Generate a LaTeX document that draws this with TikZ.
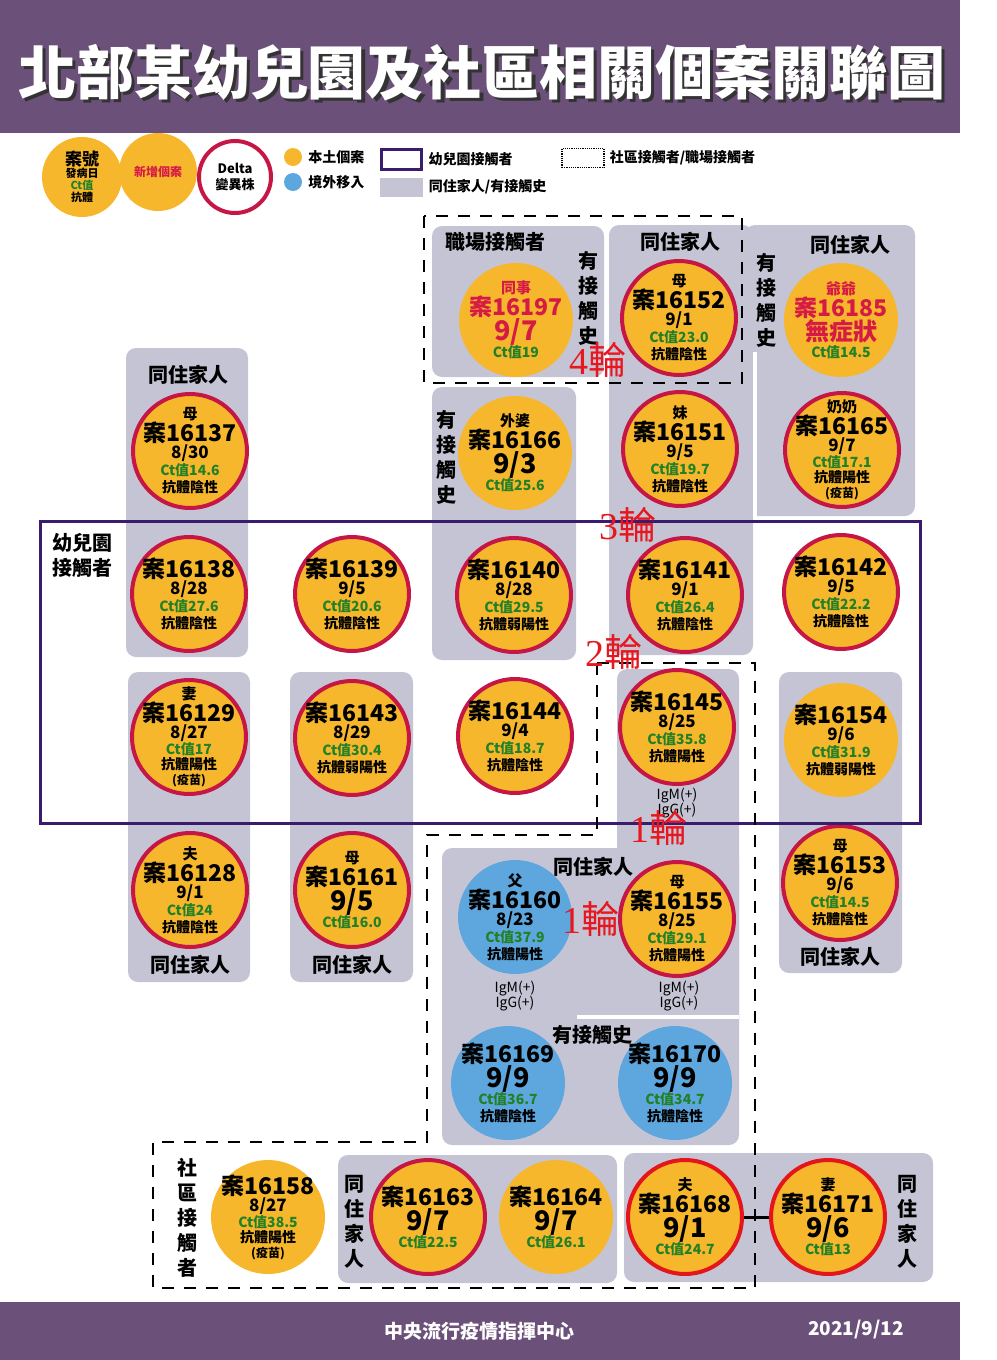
\documentclass[tikz,border=0pt]{standalone}
\usepackage{fontspec}
\setmainfont{Noto Sans CJK TC}
\newfontfamily\serifdigits{Liberation Serif}
\usetikzlibrary{positioning}

\definecolor{bandpurple}{RGB}{107,80,121}
\definecolor{caseorange}{RGB}{247,183,44}
\definecolor{caseblue}{RGB}{93,167,222}
\definecolor{deltared}{RGB}{198,22,70}
\definecolor{brightred}{RGB}{228,22,28}
\definecolor{newred}{RGB}{214,26,70}
\definecolor{ctgreen}{RGB}{34,128,38}
\definecolor{panelgray}{RGB}{196,196,212}
\definecolor{kgpurple}{RGB}{58,28,110}
\definecolor{roundred}{RGB}{232,22,30}

% one font command per line of a case circle
\newcommand{\relname}{\fontsize{15}{15}\selectfont}
\newcommand{\caseno}{\fontsize{23}{23}\selectfont}
\newcommand{\onset}{\fontsize{17}{17}\selectfont}
\newcommand{\bigdate}{\fontsize{27}{27}\selectfont}
\newcommand{\abtxt}{\fontsize{14}{14}\selectfont}
\newcommand{\vaxtxt}{\fontsize{12}{12}\selectfont}
\newcommand{\ctval}[1]{{\fontsize{14}{14}\selectfont\color{ctgreen}Ct值#1}}

\begin{document}
\begin{tikzpicture}[x=1pt, y=-1pt,
      case/.style={circle, fill=caseorange, minimum size=114, inner sep=-25pt, align=center,
                   font=\bfseries\fontsize{14}{17}\selectfont},
      abroad/.style={case, fill=caseblue},
      delta/.style={draw=deltared, line width=4},
      panel/.style={fill=panelgray, rounded corners=10},
      lbl/.style={font=\bfseries\fontsize{20}{25}\selectfont, align=center, inner sep=0},
      legtxt/.style={font=\bfseries\fontsize{14}{16}\selectfont, anchor=west, inner sep=0},
      rnd/.style={text=roundred, font=\fontsize{38}{38}\selectfont, inner sep=0},
      dashbox/.style={draw, line width=2.5, dash pattern=on 12pt off 10pt},
      ig/.style={font=\fontsize{14}{15}\selectfont, align=center, inner sep=0}]

    \useasboundingbox (0,0) rectangle (996,1360);

    % Title and footer bands
    \fill[bandpurple] (0,0) rectangle (960,133);
    \fill[bandpurple] (0,1302) rectangle (960,1360);
    \node[font=\bfseries\fontsize{58}{60}\selectfont, text=black!80] (title-sh) at (485,76) {北部某幼兒園及社區相關個案關聯圖};
    \node[font=\bfseries\fontsize{58}{60}\selectfont, text=white] (title) at (482,73) {北部某幼兒園及社區相關個案關聯圖};
    \node[font=\bfseries\fontsize{19}{20}\selectfont, text=white] (ft-org) at (479,1331) {中央流行疫情指揮中心};
    \node[font=\bfseries\fontsize{19}{20}\selectfont, text=white] (ft-date) at (856,1329) {2021/9/12};

    % Legend
    \node[case, minimum size=80, font=\bfseries\fontsize{11}{12}\selectfont] (lg-case) at (82,177)
        {{\fontsize{17}{17}\selectfont 案號}\\發病日\\{\color{ctgreen}Ct值}\\抗體};
    \node[case, minimum size=78, font=\bfseries\fontsize{12}{14}\selectfont, text=newred] (lg-new) at (158,172) {新增個案};
    \node[case, delta, fill=white, minimum size=72, font=\bfseries\fontsize{13}{16}\selectfont] (lg-delta) at (235,177) {Delta\\變異株};
    \node[circle, fill=caseorange, minimum size=18, inner sep=0] (lg-local) at (293,157) {};
    \node[circle, fill=caseblue, minimum size=18, inner sep=0] (lg-abroad) at (293,182) {};
    \node[legtxt, right=6pt of lg-local] (lg-local-t) {本土個案};
    \node[legtxt, right=6pt of lg-abroad] (lg-abroad-t) {境外移入};
    \node[draw=kgpurple, line width=3, minimum width=40, minimum height=20, inner sep=0] (lg-kg) at (401,159) {};
    \node[fill=panelgray, minimum width=43, minimum height=19, inner sep=0] (lg-fam) at (401,187) {};
    \node[draw, densely dotted, line width=1.2, minimum width=42, minimum height=19, inner sep=0] (lg-comm) at (583,158) {};
    \node[legtxt, right=6pt of lg-kg] (lg-kg-t) {幼兒園接觸者};
    \node[legtxt, right=6pt of lg-fam] (lg-fam-t) {同住家人/有接觸史};
    \node[legtxt, right=5pt of lg-comm] (lg-comm-t) {社區接觸者/職場接觸者};

    % Grey panels (household / contact history)
    \fill[panel] (432,226) rectangle (604,377);
    \fill[panel] (609,225) rectangle (753,655);
    \fill[panel] (745,225) rectangle (915,516);
    \fill[panel] (126,348) rectangle (248,657);
    \fill[panel] (432,387) rectangle (576,660);
    \fill[panel] (128,672) rectangle (250,982);
    \fill[panel] (290,672) rectangle (413,982);
    \fill[panel] (617,669) rectangle (739,1030);
    \fill[panel] (442,848) rectangle (739,1145);
    \fill[panel] (779,672) rectangle (902,973);
    \fill[panel] (338,1155) rectangle (617,1283);
    \fill[panel] (624,1153) rectangle (933,1282);
    \fill[white] (753,352) rectangle (757,518);
    \fill[white] (577,1015) rectangle (739,1019);

    % Cases, top block
    \node[case] (c16197) at (516,320) {{\relname\color{newred}同事}\\{\caseno\color{newred}案16197}\\{\bigdate\color{newred}9/7}\\\ctval{19}};
    \node[case, delta] (c16152) at (679,318) {{\relname 母}\\{\caseno 案16152}\\{\onset 9/1}\\\ctval{23.0}\\{\abtxt 抗體陰性}};
    \node[case] (c16185) at (841,320) {{\relname\color{newred}爺爺}\\{\caseno\color{newred}案16185}\\{\fontsize{24}{24}\selectfont\color{newred}無症狀}\\\ctval{14.5}};
    \node[case, delta] (c16137) at (190,451) {{\relname 母}\\{\caseno 案16137}\\{\onset 8/30}\\\ctval{14.6}\\{\abtxt 抗體陰性}};
    \node[case] (c16166) at (515,453) {{\relname 外婆}\\{\caseno 案16166}\\{\bigdate 9/3}\\\ctval{25.6}};
    \node[case, delta] (c16151) at (680,449) {{\relname 妹}\\{\caseno 案16151}\\{\onset 9/5}\\\ctval{19.7}\\{\abtxt 抗體陰性}};
    \node[case, delta, font=\bfseries\fontsize{14}{15}\selectfont] (c16165) at (842,450) {{\relname 奶奶}\\{\caseno 案16165}\\{\onset 9/7}\\\ctval{17.1}\\{\abtxt 抗體陽性}\\{\vaxtxt (疫苗)}};

    % Cases, kindergarten block
    \node[case, delta] (c16138) at (189,594) {{\caseno 案16138}\\{\onset 8/28}\\\ctval{27.6}\\{\abtxt 抗體陰性}};
    \node[case, delta] (c16139) at (352,594) {{\caseno 案16139}\\{\onset 9/5}\\\ctval{20.6}\\{\abtxt 抗體陰性}};
    \node[case, delta] (c16140) at (514,595) {{\caseno 案16140}\\{\onset 8/28}\\\ctval{29.5}\\{\abtxt 抗體弱陽性}};
    \node[case, delta] (c16141) at (685,595) {{\caseno 案16141}\\{\onset 9/1}\\\ctval{26.4}\\{\abtxt 抗體陰性}};
    \node[case, delta] (c16142) at (841,592) {{\caseno 案16142}\\{\onset 9/5}\\\ctval{22.2}\\{\abtxt 抗體陰性}};
    \node[case, delta, font=\bfseries\fontsize{14}{15}\selectfont] (c16129) at (189,737) {{\relname 妻}\\{\caseno 案16129}\\{\onset 8/27}\\\ctval{17}\\{\abtxt 抗體陽性}\\{\vaxtxt (疫苗)}};
    \node[case, delta] (c16143) at (352,738) {{\caseno 案16143}\\{\onset 8/29}\\\ctval{30.4}\\{\abtxt 抗體弱陽性}};
    \node[case, delta] (c16144) at (515,736) {{\caseno 案16144}\\{\onset 9/4}\\\ctval{18.7}\\{\abtxt 抗體陰性}};
    \node[case, delta] (c16145) at (677,727) {{\caseno 案16145}\\{\onset 8/25}\\\ctval{35.8}\\{\abtxt 抗體陽性}};
    \node[case] (c16154) at (841,740) {{\caseno 案16154}\\{\onset 9/6}\\\ctval{31.9}\\{\abtxt 抗體弱陽性}};
    \node[ig] (ig16145) at (677,803) {IgM(+)\\IgG(+)};

    % Cases, lower block
    \node[case, delta] (c16128) at (190,890) {{\relname 夫}\\{\caseno 案16128}\\{\onset 9/1}\\\ctval{24}\\{\abtxt 抗體陰性}};
    \node[case, delta] (c16161) at (352,890) {{\relname 母}\\{\caseno 案16161}\\{\bigdate 9/5}\\\ctval{16.0}};
    \node[case, delta] (c16153) at (840,883) {{\relname 母}\\{\caseno 案16153}\\{\onset 9/6}\\\ctval{14.5}\\{\abtxt 抗體陰性}};
    \node[abroad] (c16160) at (515,917) {{\relname 父}\\{\caseno 案16160}\\{\onset 8/23}\\\ctval{37.9}\\{\abtxt 抗體陽性}};
    \node[case, delta] (c16155) at (677,919) {{\relname 母}\\{\caseno 案16155}\\{\onset 8/25}\\\ctval{29.1}\\{\abtxt 抗體陽性}};
    \node[ig] (ig16160) at (515,996) {IgM(+)\\IgG(+)};
    \node[ig] (ig16155) at (679,996) {IgM(+)\\IgG(+)};
    \node[abroad] (c16169) at (508,1083) {{\caseno 案16169}\\{\bigdate 9/9}\\\ctval{36.7}\\{\abtxt 抗體陰性}};
    \node[abroad] (c16170) at (675,1083) {{\caseno 案16170}\\{\bigdate 9/9}\\\ctval{34.7}\\{\abtxt 抗體陰性}};

    % Cases, community row
    \node[case, font=\bfseries\fontsize{14}{15}\selectfont] (c16158) at (268,1217) {{\caseno 案16158}\\{\onset 8/27}\\\ctval{38.5}\\{\abtxt 抗體陽性}\\{\vaxtxt (疫苗)}};
    \node[case, delta] (c16163) at (428,1217) {{\caseno 案16163}\\{\bigdate 9/7}\\\ctval{22.5}};
    \node[case] (c16164) at (556,1217) {{\caseno 案16164}\\{\bigdate 9/7}\\\ctval{26.1}};
    \node[case, delta, draw=brightred] (c16168) at (685,1217) {{\relname 夫}\\{\caseno 案16168}\\{\bigdate 9/1}\\\ctval{24.7}};
    \node[case, delta, draw=brightred] (c16171) at (828,1217) {{\relname 妻}\\{\caseno 案16171}\\{\bigdate 9/6}\\\ctval{13}};

    % Group headings
    \node[lbl] (hd-work) at (495,242) {職場接觸者};
    \node[lbl] (hd-fam1) at (680,242) {同住家人};
    \node[lbl] (hd-fam2) at (850,245) {同住家人};
    \node[lbl] (hd-fam3) at (188,375) {同住家人};
    \node[lbl] (hd-fam4) at (190,965) {同住家人};
    \node[lbl] (hd-fam5) at (352,965) {同住家人};
    \node[lbl] (hd-fam6) at (840,957) {同住家人};
    \node[lbl] (hd-fam7) at (593,867) {同住家人};
    \node[lbl] (hd-cont4) at (592,1035) {有接觸史};
    \node[lbl, align=left, anchor=north west] (hd-kg) at (52,533) {幼兒園\\接觸者};
    \node[lbl] (vt-cont1) at (588,298) {有\\接\\觸\\史};
    \node[lbl] (vt-cont2) at (766,300) {有\\接\\觸\\史};
    \node[lbl] (vt-cont3) at (446,457) {有\\接\\觸\\史};
    \node[lbl] (vt-comm) at (187,1218) {社\\區\\接\\觸\\者};
    \node[lbl] (vt-fam1) at (354,1222) {同\\住\\家\\人};
    \node[lbl] (vt-fam2) at (907,1222) {同\\住\\家\\人};

    % Kindergarten frame and community / workplace dashed frames
    \draw[kgpurple, line width=3] (40,521) rectangle (920,823);
    \draw[dashbox] (424,216) rectangle (742,383);
    \draw[dashbox] (597,663) -- (755,663) -- (755,1288) -- (153,1288) -- (153,1142)
        -- (427,1142) -- (427,835) -- (597,835) -- cycle;

    % Couple link
    \draw[line width=3] (c16168) -- (c16171);

    % Transmission rounds
    \node[rnd] (rd4) at (598,360) {{\serifdigits 4}輪};
    \node[rnd] (rd3) at (628,525) {{\serifdigits 3}輪};
    \node[rnd] (rd2) at (614,652) {{\serifdigits 2}輪};
    \node[rnd] (rd1a) at (659,828) {{\serifdigits 1}輪};
    \node[rnd] (rd1b) at (591,919) {{\serifdigits 1}輪};

\end{tikzpicture}
\end{document}
